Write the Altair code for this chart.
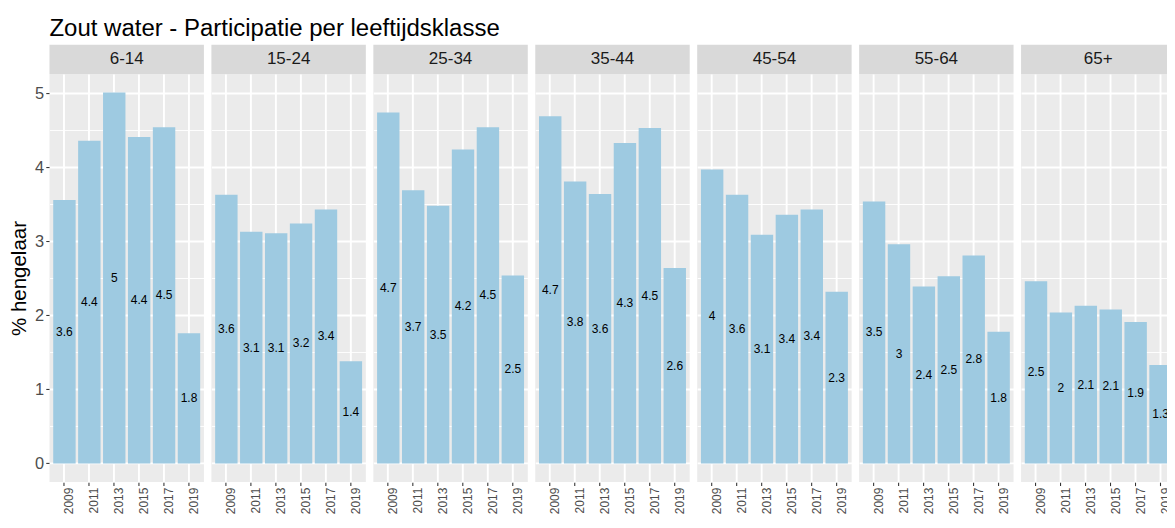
import altair as alt
import pandas as pd

GROUPS = ["6-14", "15-24", "25-34", "35-44", "45-54", "55-64", "65+"]
YEARS = ["2009", "2011", "2013", "2015", "2017", "2019"]

V_6_14 = [3.56, 4.36, 5.01, 4.41, 4.54, 1.76]
V_15_24 = [3.63, 3.13, 3.11, 3.24, 3.43, 1.38]
V_25_34 = [4.74, 3.69, 3.48, 4.24, 4.54, 2.54]
V_35_44 = [4.69, 3.81, 3.64, 4.33, 4.53, 2.64]
V_45_54 = [3.97, 3.63, 3.09, 3.36, 3.43, 2.32]
V_55_64 = [3.54, 2.96, 2.39, 2.53, 2.81, 1.78]
V_65_PLUS = [2.46, 2.04, 2.13, 2.08, 1.91, 1.33]

SERIES = [V_6_14, V_15_24, V_25_34, V_35_44, V_45_54, V_55_64, V_65_PLUS]
Y_BREAKS = [0, 0.5, 1, 1.5, 2, 2.5, 3, 3.5, 4, 4.5, 5]

rows = []
for g, vals in zip(GROUPS, SERIES):
    for y, v in zip(YEARS, vals):
        rows.append({"group": g, "year": y, "value": v})
df = pd.DataFrame(rows)

W = 154.5
H = 408
STRIP = 29.4
FONT = "Liberation Sans"
MAJOR = "datum.value % 1 === 0"

x_enc = alt.X(
    "year:O", sort=YEARS, title=None,
    scale=alt.Scale(paddingInner=0.1, paddingOuter=0.15),
    axis=alt.Axis(
        labelAngle=270, labelAlign="right", labelBaseline="top",
        labelFont=FONT, labelFontSize=12, labelColor="#4D4D4D",
        labelPadding=1.5, labelOverlap=False,
        tickColor="#333333", tickSize=3.7, tickWidth=1.07,
        domain=False, grid=True, gridColor="white", gridWidth=1.9,
        bandPosition=0.5,
    ),
)
y_enc = alt.Y(
    "value:Q", title="% hengelaar",
    scale=alt.Scale(domain=[-0.25, 5.26], nice=False, zero=False),
    axis=alt.Axis(
        values=Y_BREAKS,
        labelExpr="datum.value % 1 === 0 ? format(datum.value, 'd') : ''",
        labelFont=FONT, labelFontSize=16.4, labelColor="#4D4D4D", labelPadding=2.2,
        tickColor="#333333", tickSize=3.7, tickWidth=1.07,
        tickOpacity={"condition": {"test": MAJOR, "value": 1}, "value": 0},
        domain=False, grid=True, gridColor="white",
        gridWidth={"condition": {"test": MAJOR, "value": 1.9}, "value": 0.95},
        titleFont=FONT, titleFontSize=20.5, titleFontWeight="normal", titleColor="black",
        titlePadding=5,
    ),
)

bars = alt.Chart().mark_bar(color="#9ECAE1").encode(x=x_enc, y=y_enc)

labels = alt.Chart().transform_calculate(half="datum.value / 2").mark_text(
    font=FONT, fontSize=12, color="black", baseline="middle", align="center"
).encode(
    x=alt.X("year:O", sort=YEARS),
    y=alt.Y("half:Q"),
    text=alt.Text("value:Q", format=".1~f"),
)

strip_rect = alt.Chart().transform_filter(alt.datum.year == "2009").mark_rect(
    color="#D9D9D9"
).encode(
    x=alt.value(0), x2=alt.value(W), y=alt.value(-STRIP), y2=alt.value(0)
)

strip_text = alt.Chart().transform_filter(alt.datum.year == "2009").mark_text(
    font=FONT, fontSize=17, color="#1A1A1A", baseline="middle", align="center"
).encode(
    x=alt.value(W / 2), y=alt.value(-STRIP / 2), text="group:N"
)

panel = alt.layer(bars, labels, strip_rect, strip_text, data=df).properties(
    width=W, height=H
)

chart = panel.facet(
    column=alt.Column("group:N", sort=GROUPS, header=alt.Header(labels=False, title=None)),
    spacing=7,
).properties(
    title=alt.Title(
        "Zout water - Participatie per leeftijdsklasse",
        anchor="start", frame="group", fontSize=24, font=FONT,
        fontWeight="normal", color="black", offset=3.7,
    ),
    padding={"left": 0.5, "top": 8, "right": -9, "bottom": 0},
).configure_view(fill="#EBEBEB", strokeWidth=0)

chart.save("out.html", embed_options={"renderer": "svg", "actions": False})
